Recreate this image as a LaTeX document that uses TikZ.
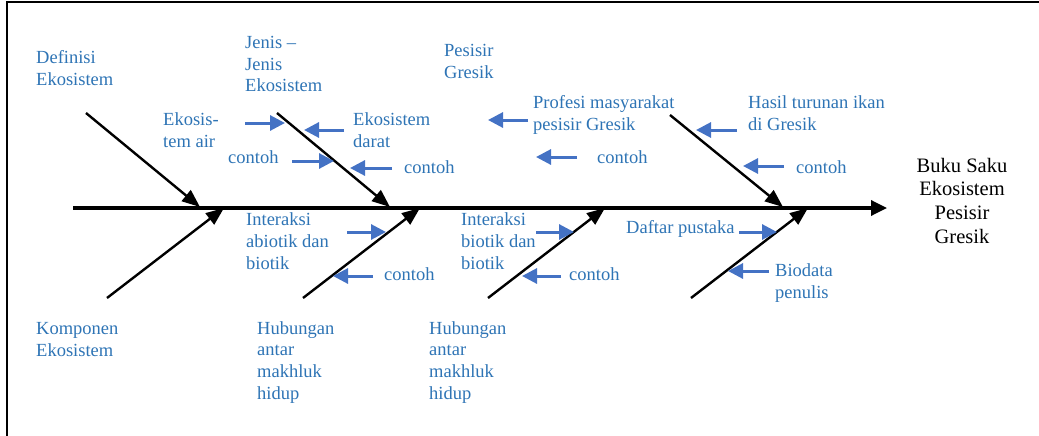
\documentclass[tikz,border=0pt]{standalone}
\usepackage{fontspec}
\setmainfont{Liberation Serif}
\usetikzlibrary{arrows.meta}
\definecolor{teks}{RGB}{46,116,181}
\definecolor{panah}{RGB}{68,114,196}
\tikzset{
  tulang/.style={line width=2.4pt, -{Triangle[length=18pt,width=14pt]}},
  duri/.style={draw=panah, line width=3pt, -{Triangle[length=15pt,width=15pt]}},
  % base west = baseline of the last line
  ket/.style={text=teks, anchor=base west, align=left, inner sep=0pt,
    font=\fontsize{18.5}{21.6}\selectfont},
  judul/.style={anchor=base, align=center, inner sep=0pt,
    font=\fontsize{20.5}{23.6}\selectfont}
}

\begin{document}
\begin{tikzpicture}[x=1pt,y=-1pt]
			%%%%% START %%%%%
			\useasboundingbox (0,0) rectangle (1039,436);
			\draw[line width=1.5pt] (7,440) -- (7,2) -- (1045,2);
			
			% tulang utama
			\coordinate (ekor) at (73,208);
			\coordinate (kepala) at (887,208);
			\draw[line width=3.4pt, -{Triangle[length=16pt,width=15pt]}] (ekor) -- (kepala);
			\node[judul] (buku) at (962,243) {Buku Saku\\Ekosistem\\Pesisir\\Gresik};
			
			% tulang atas
			\coordinate (atas1) at (86,113);   \coordinate (atas1u) at (200,207);
			\coordinate (atas2) at (277,113);  \coordinate (atas2u) at (390,207);
			\coordinate (atas3) at (670,115);  \coordinate (atas3u) at (783,207);
			\draw[tulang] (atas1) -- (atas1u);
			\draw[tulang] (atas2) -- (atas2u);
			\draw[tulang] (atas3) -- (atas3u);
			
			% tulang bawah
			\coordinate (bawah1) at (107,298); \coordinate (bawah1u) at (224,208);
			\coordinate (bawah2) at (303,298); \coordinate (bawah2u) at (420,208);
			\coordinate (bawah3) at (488,298); \coordinate (bawah3u) at (605,208);
			\coordinate (bawah4) at (691,298); \coordinate (bawah4u) at (808,208);
			\draw[tulang] (bawah1) -- (bawah1u);
			\draw[tulang] (bawah2) -- (bawah2u);
			\draw[tulang] (bawah3) -- (bawah3u);
			\draw[tulang] (bawah4) -- (bawah4u);
			
			% keterangan atas
			\node[ket] (definisi) at (36,85) {Definisi\\Ekosistem};
			\node[ket] (jenis) at (245,92) {Jenis \textendash\\Jenis\\Ekosistem};
			\node[ket] (pesisir) at (444,78) {Pesisir\\Gresik};
			\node[ket] (air) at (163,147) {Ekosis-\\tem air};
			\node[ket] (darat) at (353,147) {Ekosistem\\darat};
			\node[ket] (contohA) at (228,163) {contoh};
			\node[ket] (contohB) at (404,173) {contoh};
			\node[ket] (profesi) at (533,130) {Profesi masyarakat\\pesisir Gresik};
			\node[ket] (hasil) at (748,130) {Hasil turunan ikan\\di Gresik};
			\node[ket] (contohC) at (597,163) {contoh};
			\node[ket] (contohD) at (796,173) {contoh};
			
			% keterangan bawah
			\node[ket] (abiotik) at (246,269) {Interaksi\\abiotik dan\\biotik};
			\node[ket] (contohE) at (384,280) {contoh};
			\node[ket] (komponen) at (36,356) {Komponen\\Ekosistem};
			\node[ket] (hubunganA) at (257,399) {Hubungan\\antar\\makhluk\\hidup};
			\node[ket] (hubunganB) at (429,399) {Hubungan\\antar\\makhluk\\hidup};
			\node[ket] (biotik) at (461,269) {Interaksi\\biotik dan\\biotik};
			\node[ket] (contohF) at (569,280) {contoh};
			\node[ket] (daftar) at (626,233) {Daftar pustaka};
			\node[ket] (biodata) at (775,298) {Biodata\\penulis};
			
			% panah biru
			\coordinate (p1) at (245,123); \coordinate (p1u) at (285,123);
			\coordinate (p2) at (344,130); \coordinate (p2u) at (304,130);
			\coordinate (p3) at (292,161); \coordinate (p3u) at (334,161);
			\coordinate (p4) at (392,168); \coordinate (p4u) at (350,168);
			\coordinate (p5) at (528,120); \coordinate (p5u) at (488,120);
			\coordinate (p6) at (577,157); \coordinate (p6u) at (536,157);
			\coordinate (p7) at (737,130); \coordinate (p7u) at (696,130);
			\coordinate (p8) at (784,166); \coordinate (p8u) at (743,166);
			\coordinate (p9) at (347,232); \coordinate (p9u) at (386,232);
			\coordinate (p10) at (373,276); \coordinate (p10u) at (333,276);
			\coordinate (p11) at (536,232); \coordinate (p11u) at (574,232);
			\coordinate (p12) at (561,276); \coordinate (p12u) at (522,276);
			\coordinate (p13) at (739,232); \coordinate (p13u) at (777,232);
			\coordinate (p14) at (769,271); \coordinate (p14u) at (728,271);
			\foreach \i in {1,...,14}
				\draw[duri] (p\i) -- (p\i u);
			
			%%%%% END %%%%%
\end{tikzpicture}
\end{document}
